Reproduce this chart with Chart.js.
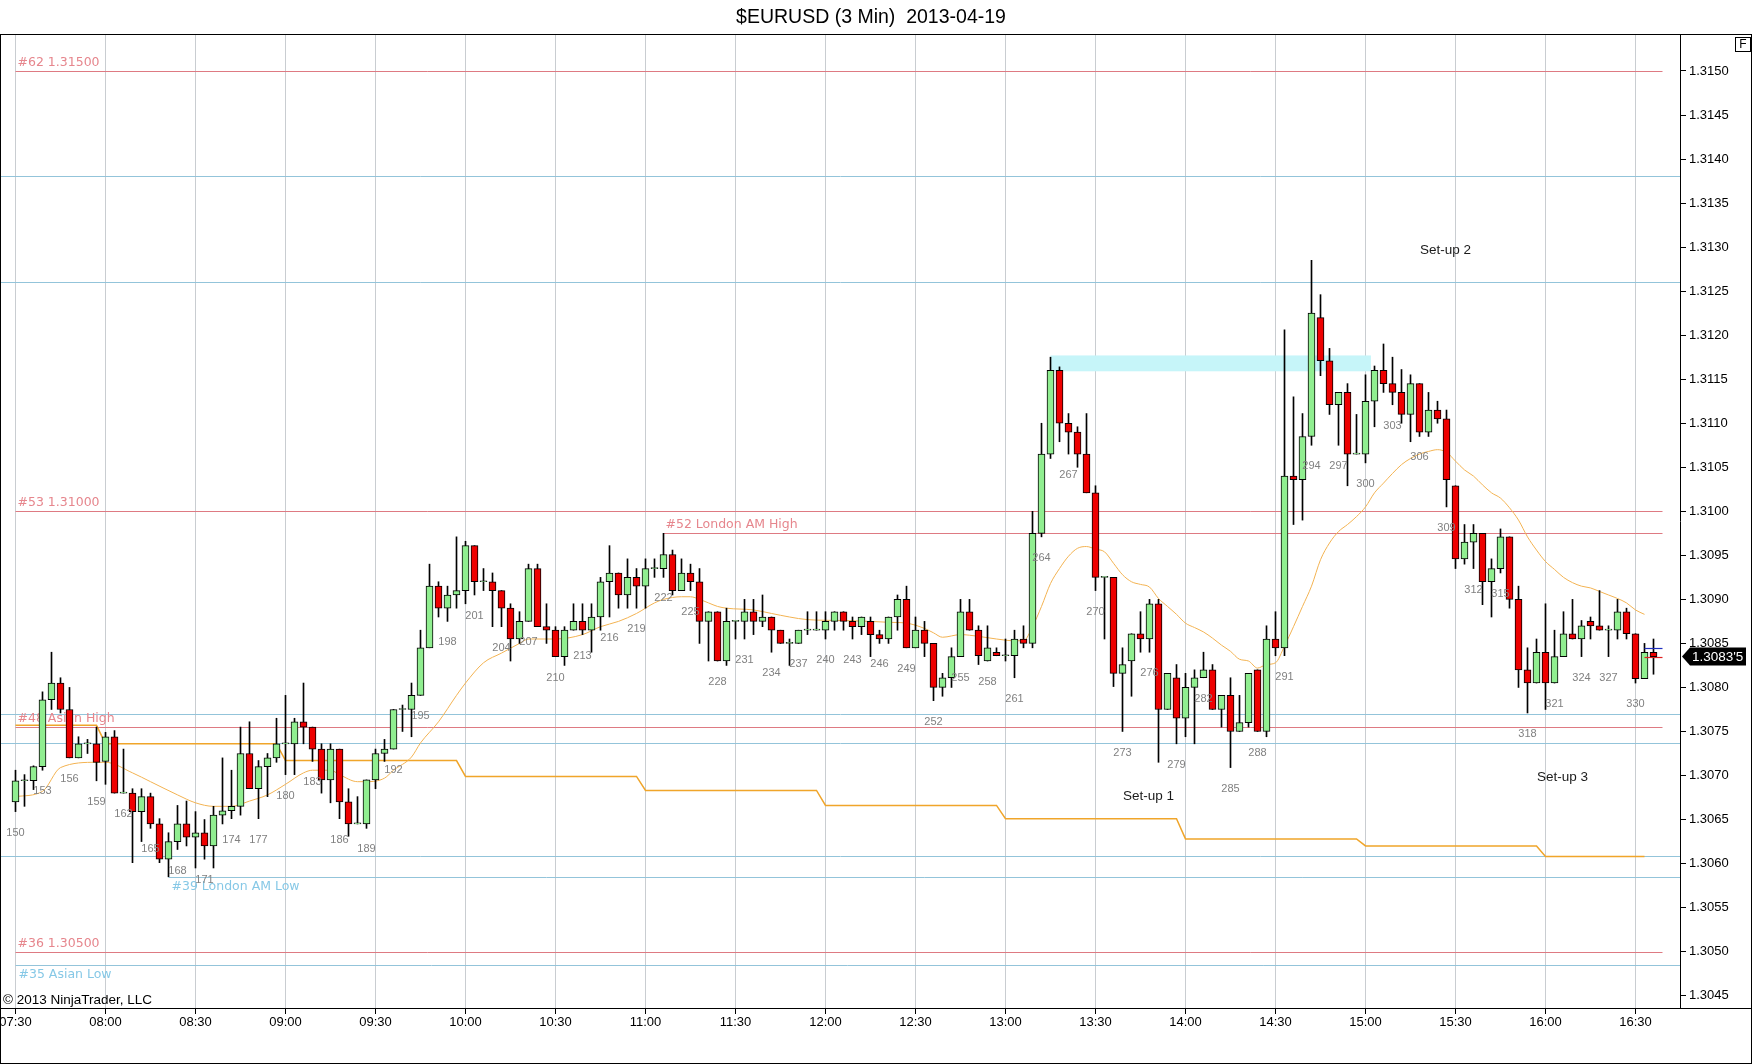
<!DOCTYPE html>
<html>
<head>
<meta charset="utf-8">
<title>$EURUSD (3 Min) 2013-04-19</title>
<script src="https://cdn.jsdelivr.net/npm/chart.js@4.4.1/dist/chart.umd.min.js"></script>
<style>
  html, body { margin: 0; padding: 0; background: #fff; }
  canvas { display: block; }
</style>
</head>
<body>
<canvas id="chart" width="1752" height="1064"></canvas>
<script>
// bar numbers start at 150, one bar every 3 minutes
const firstBar = 150;

const opens = [
  1.30670, 1.30694, 1.30694, 1.30710, 1.30786, 1.30805, 1.30775, 1.30720, 1.30736, 1.30736,
  1.30716, 1.30744, 1.30680, 1.30680, 1.30659, 1.30676, 1.30645, 1.30605, 1.30625, 1.30645,
  1.30630, 1.30635, 1.30620, 1.30655, 1.30660, 1.30665, 1.30725, 1.30685, 1.30710, 1.30720,
  1.30736, 1.30736, 1.30761, 1.30755, 1.30730, 1.30695, 1.30730, 1.30670, 1.30645, 1.30645,
  1.30695, 1.30725, 1.30730, 1.30775, 1.30775, 1.30791, 1.30845, 1.30915, 1.30890, 1.30905,
  1.30910, 1.30961, 1.30920, 1.30920, 1.30910, 1.30890, 1.30855, 1.30875, 1.30935, 1.30869,
  1.30865, 1.30835, 1.30865, 1.30875, 1.30865, 1.30880, 1.30920, 1.30930, 1.30905, 1.30925,
  1.30915, 1.30935, 1.30935, 1.30951, 1.30910, 1.30930, 1.30920, 1.30875, 1.30886, 1.30830,
  1.30875, 1.30875, 1.30886, 1.30875, 1.30880, 1.30865, 1.30850, 1.30850, 1.30865, 1.30865,
  1.30865, 1.30875, 1.30886, 1.30875, 1.30869, 1.30875, 1.30860, 1.30855, 1.30880, 1.30900,
  1.30845, 1.30865, 1.30850, 1.30800, 1.30811, 1.30835, 1.30886, 1.30865, 1.30830, 1.30840,
  1.30836, 1.30836, 1.30855, 1.30850, 1.30975, 1.31065, 1.31160, 1.31100, 1.31090, 1.31065,
  1.31021, 1.30925, 1.30925, 1.30816, 1.30830, 1.30861, 1.30855, 1.30895, 1.30775, 1.30811,
  1.30765, 1.30800, 1.30811, 1.30820, 1.30775, 1.30791, 1.30750, 1.30760, 1.30820, 1.30750,
  1.30855, 1.30845, 1.31040, 1.31036, 1.31085, 1.31220, 1.31171, 1.31121, 1.31135, 1.31065,
  1.31065, 1.31125, 1.31160, 1.31145, 1.31135, 1.31110, 1.31145, 1.31090, 1.31115, 1.31105,
  1.31029, 1.30946, 1.30965, 1.30975, 1.30920, 1.30935, 1.30971, 1.30900, 1.30820, 1.30805,
  1.30840, 1.30805, 1.30835, 1.30861, 1.30855, 1.30875, 1.30870, 1.30865, 1.30865, 1.30886,
  1.30861, 1.30810, 1.30840
];

const highs = [
  1.30706, 1.30701, 1.30711, 1.30795, 1.30840, 1.30811, 1.30800, 1.30744, 1.30741, 1.30755,
  1.30749, 1.30751, 1.30730, 1.30685, 1.30685, 1.30680, 1.30651, 1.30635, 1.30666, 1.30671,
  1.30659, 1.30650, 1.30665, 1.30720, 1.30706, 1.30755, 1.30761, 1.30717, 1.30725, 1.30765,
  1.30791, 1.30765, 1.30805, 1.30755, 1.30736, 1.30736, 1.30730, 1.30685, 1.30676, 1.30695,
  1.30730, 1.30741, 1.30775, 1.30780, 1.30805, 1.30865, 1.30940, 1.30920, 1.30915, 1.30971,
  1.30966, 1.30961, 1.30935, 1.30930, 1.30910, 1.30895, 1.30886, 1.30940, 1.30940, 1.30895,
  1.30869, 1.30869, 1.30895, 1.30895, 1.30895, 1.30925, 1.30961, 1.30930, 1.30946, 1.30935,
  1.30946, 1.30946, 1.30975, 1.30956, 1.30946, 1.30940, 1.30935, 1.30886, 1.30886, 1.30890,
  1.30875, 1.30900, 1.30900, 1.30905, 1.30880, 1.30865, 1.30855, 1.30865, 1.30886, 1.30886,
  1.30886, 1.30886, 1.30886, 1.30880, 1.30880, 1.30880, 1.30865, 1.30880, 1.30905, 1.30915,
  1.30880, 1.30875, 1.30850, 1.30816, 1.30845, 1.30900, 1.30900, 1.30870, 1.30870, 1.30845,
  1.30855, 1.30865, 1.30870, 1.31000, 1.31100, 1.31175, 1.31164, 1.31111, 1.31096, 1.31111,
  1.31029, 1.30925, 1.30925, 1.30845, 1.30861, 1.30886, 1.30900, 1.30900, 1.30816, 1.30826,
  1.30816, 1.30820, 1.30840, 1.30826, 1.30791, 1.30811, 1.30791, 1.30816, 1.30820, 1.30870,
  1.30886, 1.31206, 1.31130, 1.31111, 1.31285, 1.31246, 1.31185, 1.31135, 1.31145, 1.31110,
  1.31155, 1.31165, 1.31190, 1.31175, 1.31161, 1.31155, 1.31145, 1.31135, 1.31125, 1.31115,
  1.31029, 1.30985, 1.30985, 1.30975, 1.30946, 1.30980, 1.30971, 1.30915, 1.30845, 1.30855,
  1.30895, 1.30865, 1.30886, 1.30900, 1.30876, 1.30880, 1.30910, 1.30870, 1.30900, 1.30890,
  1.30861, 1.30850, 1.30855
];

const lows = [
  1.30659, 1.30665, 1.30684, 1.30706, 1.30775, 1.30771, 1.30720, 1.30720, 1.30725, 1.30694,
  1.30690, 1.30680, 1.30680, 1.30601, 1.30625, 1.30640, 1.30601, 1.30585, 1.30616, 1.30620,
  1.30595, 1.30605, 1.30595, 1.30645, 1.30651, 1.30655, 1.30685, 1.30651, 1.30676, 1.30715,
  1.30701, 1.30701, 1.30736, 1.30716, 1.30680, 1.30669, 1.30651, 1.30631, 1.30645, 1.30640,
  1.30685, 1.30716, 1.30730, 1.30750, 1.30744, 1.30791, 1.30845, 1.30880, 1.30875, 1.30890,
  1.30895, 1.30905, 1.30910, 1.30869, 1.30869, 1.30830, 1.30850, 1.30875, 1.30869, 1.30850,
  1.30835, 1.30825, 1.30865, 1.30860, 1.30840, 1.30865, 1.30880, 1.30890, 1.30890, 1.30890,
  1.30890, 1.30925, 1.30925, 1.30905, 1.30910, 1.30910, 1.30850, 1.30830, 1.30830, 1.30825,
  1.30855, 1.30855, 1.30860, 1.30869, 1.30840, 1.30850, 1.30825, 1.30850, 1.30860, 1.30865,
  1.30855, 1.30865, 1.30865, 1.30855, 1.30860, 1.30835, 1.30850, 1.30850, 1.30865, 1.30845,
  1.30845, 1.30835, 1.30785, 1.30790, 1.30800, 1.30835, 1.30865, 1.30826, 1.30830, 1.30836,
  1.30830, 1.30811, 1.30845, 1.30845, 1.30971, 1.31060, 1.31079, 1.31065, 1.31050, 1.31021,
  1.30910, 1.30855, 1.30801, 1.30750, 1.30790, 1.30840, 1.30840, 1.30715, 1.30775, 1.30736,
  1.30744, 1.30736, 1.30811, 1.30775, 1.30755, 1.30709, 1.30750, 1.30755, 1.30750, 1.30744,
  1.30836, 1.30836, 1.30985, 1.30990, 1.31075, 1.31154, 1.31110, 1.31075, 1.31029, 1.31065,
  1.31055, 1.31096, 1.31135, 1.31121, 1.31100, 1.31079, 1.31085, 1.31085, 1.31100, 1.31005,
  1.30935, 1.30940, 1.30935, 1.30894, 1.30880, 1.30930, 1.30890, 1.30800, 1.30771, 1.30805,
  1.30775, 1.30805, 1.30835, 1.30855, 1.30835, 1.30855, 1.30865, 1.30835, 1.30855, 1.30855,
  1.30805, 1.30810, 1.30815
];

const closes = [
  1.30694, 1.30694, 1.30710, 1.30786, 1.30805, 1.30775, 1.30720, 1.30736, 1.30736, 1.30715,
  1.30744, 1.30680, 1.30680, 1.30659, 1.30676, 1.30645, 1.30605, 1.30625, 1.30645, 1.30630,
  1.30635, 1.30620, 1.30655, 1.30660, 1.30665, 1.30725, 1.30685, 1.30710, 1.30720, 1.30736,
  1.30736, 1.30761, 1.30755, 1.30730, 1.30695, 1.30730, 1.30670, 1.30645, 1.30645, 1.30695,
  1.30725, 1.30730, 1.30775, 1.30775, 1.30791, 1.30845, 1.30915, 1.30890, 1.30905, 1.30910,
  1.30961, 1.30920, 1.30920, 1.30910, 1.30890, 1.30855, 1.30875, 1.30935, 1.30869, 1.30865,
  1.30835, 1.30865, 1.30875, 1.30865, 1.30880, 1.30920, 1.30930, 1.30905, 1.30925, 1.30915,
  1.30935, 1.30935, 1.30951, 1.30910, 1.30930, 1.30920, 1.30875, 1.30886, 1.30830, 1.30875,
  1.30875, 1.30886, 1.30875, 1.30880, 1.30865, 1.30850, 1.30850, 1.30865, 1.30865, 1.30865,
  1.30875, 1.30886, 1.30875, 1.30869, 1.30880, 1.30860, 1.30855, 1.30880, 1.30900, 1.30845,
  1.30865, 1.30850, 1.30800, 1.30811, 1.30835, 1.30886, 1.30865, 1.30836, 1.30845, 1.30836,
  1.30836, 1.30855, 1.30850, 1.30975, 1.31065, 1.31160, 1.31100, 1.31090, 1.31065, 1.31021,
  1.30925, 1.30925, 1.30816, 1.30826, 1.30861, 1.30855, 1.30895, 1.30775, 1.30816, 1.30765,
  1.30800, 1.30811, 1.30820, 1.30775, 1.30791, 1.30750, 1.30760, 1.30816, 1.30750, 1.30855,
  1.30845, 1.31040, 1.31036, 1.31085, 1.31225, 1.31171, 1.31121, 1.31135, 1.31065, 1.31065,
  1.31125, 1.31160, 1.31145, 1.31135, 1.31110, 1.31145, 1.31090, 1.31115, 1.31105, 1.31036,
  1.30946, 1.30965, 1.30975, 1.30920, 1.30935, 1.30971, 1.30900, 1.30820, 1.30805, 1.30840,
  1.30805, 1.30835, 1.30861, 1.30855, 1.30870, 1.30870, 1.30865, 1.30865, 1.30886, 1.30861,
  1.30810, 1.30840, 1.30835
];

// moving average at these bars
const smaBars = [
  150, 153, 155, 159, 160, 163, 165, 168, 170, 172, 174, 176, 178, 180, 182, 183, 185, 186, 188, 189,
  191, 192, 194, 195, 197, 199, 200, 202, 204, 206, 207, 210, 213, 215, 217, 219, 221, 222, 224, 225,
  226, 227, 228, 229, 232, 234, 236, 238, 242, 245, 247, 249, 251, 252, 253, 255, 257, 259, 261, 262,
  263, 264, 265, 266, 267, 268, 269, 270, 271, 272, 273, 274, 275, 276, 277, 278, 279, 280, 281, 282,
  283, 284, 285, 286, 287, 288, 289, 290, 291, 292, 293, 294, 295, 296, 297, 298, 299, 300, 301, 302,
  303, 304, 305, 306, 307, 308, 309, 310, 311, 312, 313, 314, 315, 316, 317, 318, 319, 320, 321, 322,
  323, 324, 325, 326, 327, 328, 329, 330, 331
];
const smaValues = [
  1.30676, 1.30682, 1.30709, 1.30715, 1.30715, 1.30703, 1.30693, 1.30678, 1.30669, 1.30665,
  1.30665, 1.30671, 1.30678, 1.30690, 1.30703, 1.30706, 1.30706, 1.30701, 1.30693, 1.30693,
  1.30697, 1.30706, 1.30721, 1.30737, 1.30761, 1.30791, 1.30805, 1.30828, 1.30839, 1.30850,
  1.30855, 1.30855, 1.30860, 1.30869, 1.30875, 1.30884, 1.30896, 1.30900, 1.30903, 1.30903,
  1.30900, 1.30896, 1.30892, 1.30890, 1.30888, 1.30884, 1.30880, 1.30877, 1.30876, 1.30875,
  1.30874, 1.30873, 1.30867, 1.30862, 1.30857, 1.30860, 1.30858, 1.30855, 1.30853, 1.30853,
  1.30869, 1.30892, 1.30918, 1.30935, 1.30949, 1.30958, 1.30960, 1.30957, 1.30954, 1.30941,
  1.30928, 1.30920, 1.30917, 1.30914, 1.30901, 1.30892, 1.30883, 1.30873, 1.30868, 1.30863,
  1.30856, 1.30848, 1.30841, 1.30832, 1.30830, 1.30822, 1.30826, 1.30828, 1.30847, 1.30869,
  1.30892, 1.30915, 1.30945, 1.30964, 1.30977, 1.30985, 1.30994, 1.31005, 1.31021, 1.31032,
  1.31043, 1.31053, 1.31060, 1.31065, 1.31068, 1.31070, 1.31067, 1.31057, 1.31047, 1.31040,
  1.31030, 1.31021, 1.31015, 1.31004, 1.30990, 1.30971, 1.30956, 1.30943, 1.30934, 1.30925,
  1.30919, 1.30915, 1.30913, 1.30909, 1.30905, 1.30901, 1.30896, 1.30888, 1.30883
];

// stepped orange line: level changes at these bars
const stopBars = [150, 160, 180, 200, 220, 240, 260, 280, 300, 320];
const stopLevels = [1.30757, 1.30736, 1.30717, 1.30699, 1.30683, 1.30666, 1.30651, 1.30628, 1.30620, 1.30608];
const stopEndBar = 331;

// horizontal levels
const redLevels = [1.31500, 1.31000, 1.30975, 1.30755, 1.30500];
const redStartBars = [150, 150, 222, 150, 150];
const redLabels = ['#62 1.31500', '#53 1.31000', '#52 London AM High', '#48 Asian High', '#36 1.30500'];
const redEndBar = 333;
const blueLevels = [1.31381, 1.31260, 1.30770, 1.30737, 1.30609, 1.30585, 1.30485];
const blueStartBars = [null, null, null, null, null, 167, 150];
const blueLabels = ['', '', '', '', '', '#39 London AM Low', '#35 Asian Low'];

// cyan zone
const zoneBars = [265, 300.6];
const zonePrices = [1.31177, 1.31159];

// text notes
const setupTexts = ['Set-up 1', 'Set-up 2', 'Set-up 3'];
const setupBars = [275.9, 308.9, 321.9];
const setupPrices = [1.30676, 1.31296, 1.30698];

const askPrice = 1.30845;

// axis ticks
const timeTickBars = [150, 160, 170, 180, 190, 200, 210, 220, 230, 240, 250, 260, 270, 280, 290, 300, 310, 320, 330];
const timeLabels = ['07:30', '08:00', '08:30', '09:00', '09:30', '10:00', '10:30', '11:00', '11:30', '12:00',
  '12:30', '13:00', '13:30', '14:00', '14:30', '15:00', '15:30', '16:00', '16:30'];
const priceTicks = [1.3045, 1.3050, 1.3055, 1.3060, 1.3065, 1.3070, 1.3075, 1.3080, 1.3085, 1.3090, 1.3095,
  1.3100, 1.3105, 1.3110, 1.3115, 1.3120, 1.3125, 1.3130, 1.3135, 1.3140, 1.3145, 1.3150];

const bars = opens.map((_, k) => firstBar + k);

const stopPoints = [];
stopBars.forEach((b, k) => {
  const end = k + 1 < stopBars.length ? stopBars[k + 1] - 1 : stopEndBar;
  stopPoints.push({ x: b, y: stopLevels[k] }, { x: end, y: stopLevels[k] });
});

const FONT = '"Liberation Sans", Arial, sans-serif';
const LABEL_FONT = '"DejaVu Sans", Verdana, sans-serif';
const xMin = 150 - 14.5 / 9;
const xMax = 150 + (1680 - 15.5) / 9;
const yMin = 1.30436;
const yMax = 1.31542;

function px(chart, bar) { return chart.scales.x.getPixelForValue(bar); }
function py(chart, price) { return chart.scales.y.getPixelForValue(price); }

const overlay = {
  id: 'overlay',
  beforeDatasetsDraw(chart) {
    const ctx = chart.ctx;
    const area = chart.chartArea;
    ctx.save();
    ctx.beginPath();
    ctx.rect(area.left, area.top, area.right - area.left, area.bottom - area.top);
    ctx.clip();

    // zone
    ctx.fillStyle = '#c6f5f9';
    const zx1 = px(chart, zoneBars[0]), zx2 = px(chart, zoneBars[1]);
    const zy1 = py(chart, zonePrices[0]), zy2 = py(chart, zonePrices[1]);
    ctx.fillRect(zx1, zy1, zx2 - zx1, zy2 - zy1);

    ctx.lineWidth = 1;
    ctx.font = '12.5px ' + LABEL_FONT;
    ctx.textAlign = 'left';
    ctx.textBaseline = 'middle';

    blueLevels.forEach((v, k) => {
      const y = Math.round(py(chart, v)) + 0.5;
      const x0 = blueStartBars[k] === null ? area.left : px(chart, blueStartBars[k]);
      ctx.strokeStyle = '#93c4da';
      ctx.beginPath();
      ctx.moveTo(x0, y);
      ctx.lineTo(area.right, y);
      ctx.stroke();
      if (blueLabels[k]) {
        ctx.fillStyle = '#86c8e6';
        ctx.fillText(blueLabels[k], x0 + 3, y + 9);
      }
    });

    redLevels.forEach((v, k) => {
      const y = Math.round(py(chart, v)) + 0.5;
      const x0 = px(chart, redStartBars[k]);
      ctx.strokeStyle = '#de7a82';
      ctx.beginPath();
      ctx.moveTo(x0, y);
      ctx.lineTo(px(chart, redEndBar), y);
      ctx.stroke();
      ctx.fillStyle = '#e6868d';
      ctx.fillText(redLabels[k], x0 + 2, y - 9);
    });
    ctx.restore();
  },
  afterDatasetsDraw(chart) {
    const ctx = chart.ctx;
    ctx.save();
    // bar numbers under every third bar
    ctx.font = '11px ' + FONT;
    ctx.fillStyle = '#808080';
    ctx.textAlign = 'center';
    ctx.textBaseline = 'middle';
    bars.forEach((b, k) => {
      if ((b - firstBar) % 3 !== 0) return;
      ctx.fillText(String(b), px(chart, b), py(chart, lows[k]) + 21);
    });

    // set-up notes
    ctx.font = '13.5px ' + FONT;
    ctx.fillStyle = '#1a1a1a';
    setupTexts.forEach((t, k) => {
      ctx.fillText(t, px(chart, setupBars[k]), py(chart, setupPrices[k]));
    });

    // bid / ask marks on the last bars
    const last = bars.length - 1;
    const xa = px(chart, bars[last] - 1), xb = px(chart, bars[last] + 1);
    ctx.lineWidth = 1.2;
    ctx.strokeStyle = '#2030c0';
    let y = Math.round(py(chart, askPrice)) + 0.5;
    ctx.beginPath(); ctx.moveTo(xa, y); ctx.lineTo(xb, y); ctx.stroke();
    ctx.strokeStyle = '#e02020';
    y = Math.round(py(chart, closes[last])) + 0.5;
    ctx.beginPath(); ctx.moveTo(xa, y); ctx.lineTo(xb, y); ctx.stroke();
    ctx.restore();
  },
  afterDraw(chart) {
    const ctx = chart.ctx;
    const W = chart.width, H = chart.height;
    ctx.save();
    // frame
    ctx.strokeStyle = '#000';
    ctx.lineWidth = 1;
    ctx.strokeRect(0.5, 34.5, W - 1, H - 35);
    ctx.beginPath();
    ctx.moveTo(0, chart.chartArea.bottom + 0.5);
    ctx.lineTo(W, chart.chartArea.bottom + 0.5);
    ctx.stroke();

    // title
    ctx.fillStyle = '#000';
    ctx.font = '19.5px ' + FONT;
    ctx.textAlign = 'center';
    ctx.textBaseline = 'middle';
    ctx.fillText('$EURUSD (3 Min)  2013-04-19', 871, 18);

    // copyright
    ctx.font = '13.5px ' + FONT;
    ctx.textAlign = 'left';
    ctx.fillText('\u00a9 2013 NinjaTrader, LLC', 3, 1000);

    // F box
    ctx.strokeRect(1735.5, 37.5, 15, 14);
    ctx.font = '12px ' + FONT;
    ctx.textAlign = 'center';
    ctx.fillText('F', 1743, 45);

    // last price tag
    const lastClose = closes[closes.length - 1];
    const yc = py(chart, lastClose);
    const x0 = chart.chartArea.right + 2;
    ctx.fillStyle = '#000';
    ctx.beginPath();
    ctx.moveTo(x0, yc);
    ctx.lineTo(x0 + 8, yc - 9);
    ctx.lineTo(1746, yc - 9);
    ctx.lineTo(1746, yc + 9);
    ctx.lineTo(x0 + 8, yc + 9);
    ctx.closePath();
    ctx.fill();
    const s = lastClose.toFixed(5);
    ctx.fillStyle = '#fff';
    ctx.font = '13.5px ' + FONT;
    ctx.textAlign = 'left';
    ctx.fillText(s.slice(0, -1) + "'" + s.slice(-1), x0 + 10, yc + 1);
    ctx.restore();
  }
};

new Chart(document.getElementById('chart'), {
  type: 'bar',
  data: {
    datasets: [
      {
        type: 'bar',
        label: 'body',
        data: bars.map((b, k) => ({ x: b, y: [opens[k], closes[k]] })),
        backgroundColor: bars.map((b, k) => (closes[k] >= opens[k] ? '#90ee90' : '#ee0000')),
        borderColor: '#000',
        borderWidth: 1,
        borderSkipped: false,
        barThickness: 7,
        minBarLength: 1,
        grouped: false,
        order: 0
      },
      {
        type: 'bar',
        label: 'wick',
        data: bars.map((b, k) => ({ x: b, y: [lows[k], highs[k]] })),
        backgroundColor: '#000',
        borderWidth: 0,
        barThickness: 1,
        grouped: false,
        order: 1
      },
      {
        type: 'line',
        label: 'SMA',
        data: smaBars.map((b, k) => ({ x: b, y: smaValues[k] })),
        borderColor: '#f3b352',
        borderWidth: 1,
        pointRadius: 0,
        cubicInterpolationMode: 'monotone',
        order: 2
      },
      {
        type: 'line',
        label: 'stop',
        data: stopPoints,
        borderColor: '#f0a52a',
        borderWidth: 1.5,
        pointRadius: 0,
        tension: 0,
        order: 3
      }
    ]
  },
  options: {
    responsive: false,
    animation: false,
    devicePixelRatio: 1,
    layout: { padding: { top: 34, left: 1, right: 0, bottom: 0 } },
    plugins: { legend: { display: false }, tooltip: { enabled: false } },
    scales: {
      x: {
        type: 'linear',
        min: xMin,
        max: xMax,
        offset: false,
        grid: { offset: false, color: '#c9cdd1', lineWidth: 1, drawTicks: true, tickLength: 6, tickColor: '#000' },
        border: { display: true, color: '#000' },
        afterBuildTicks: (s) => { s.ticks = timeTickBars.map((v) => ({ value: v })); },
        afterFit: (s) => { s.height = 56; s.paddingLeft = 0; s.paddingRight = 0; },
        ticks: {
          autoSkip: false,
          maxRotation: 0,
          padding: 1,
          color: '#000',
          font: { family: FONT, size: 13 },
          callback: (v, i) => timeLabels[i]
        }
      },
      y: {
        type: 'linear',
        position: 'right',
        min: yMin,
        max: yMax,
        beginAtZero: false,
        grid: { drawOnChartArea: false, drawTicks: true, tickLength: 6, tickColor: '#000', color: '#000' },
        border: { display: true, color: '#000' },
        afterBuildTicks: (s) => { s.ticks = priceTicks.map((v) => ({ value: v })); },
        afterFit: (s) => { s.width = 72; s.paddingTop = 0; s.paddingBottom = 0; },
        ticks: {
          padding: 3,
          color: '#000',
          font: { family: FONT, size: 13 },
          callback: (v) => v.toFixed(4)
        }
      }
    }
  },
  plugins: [overlay]
});
</script>
</body>
</html>
